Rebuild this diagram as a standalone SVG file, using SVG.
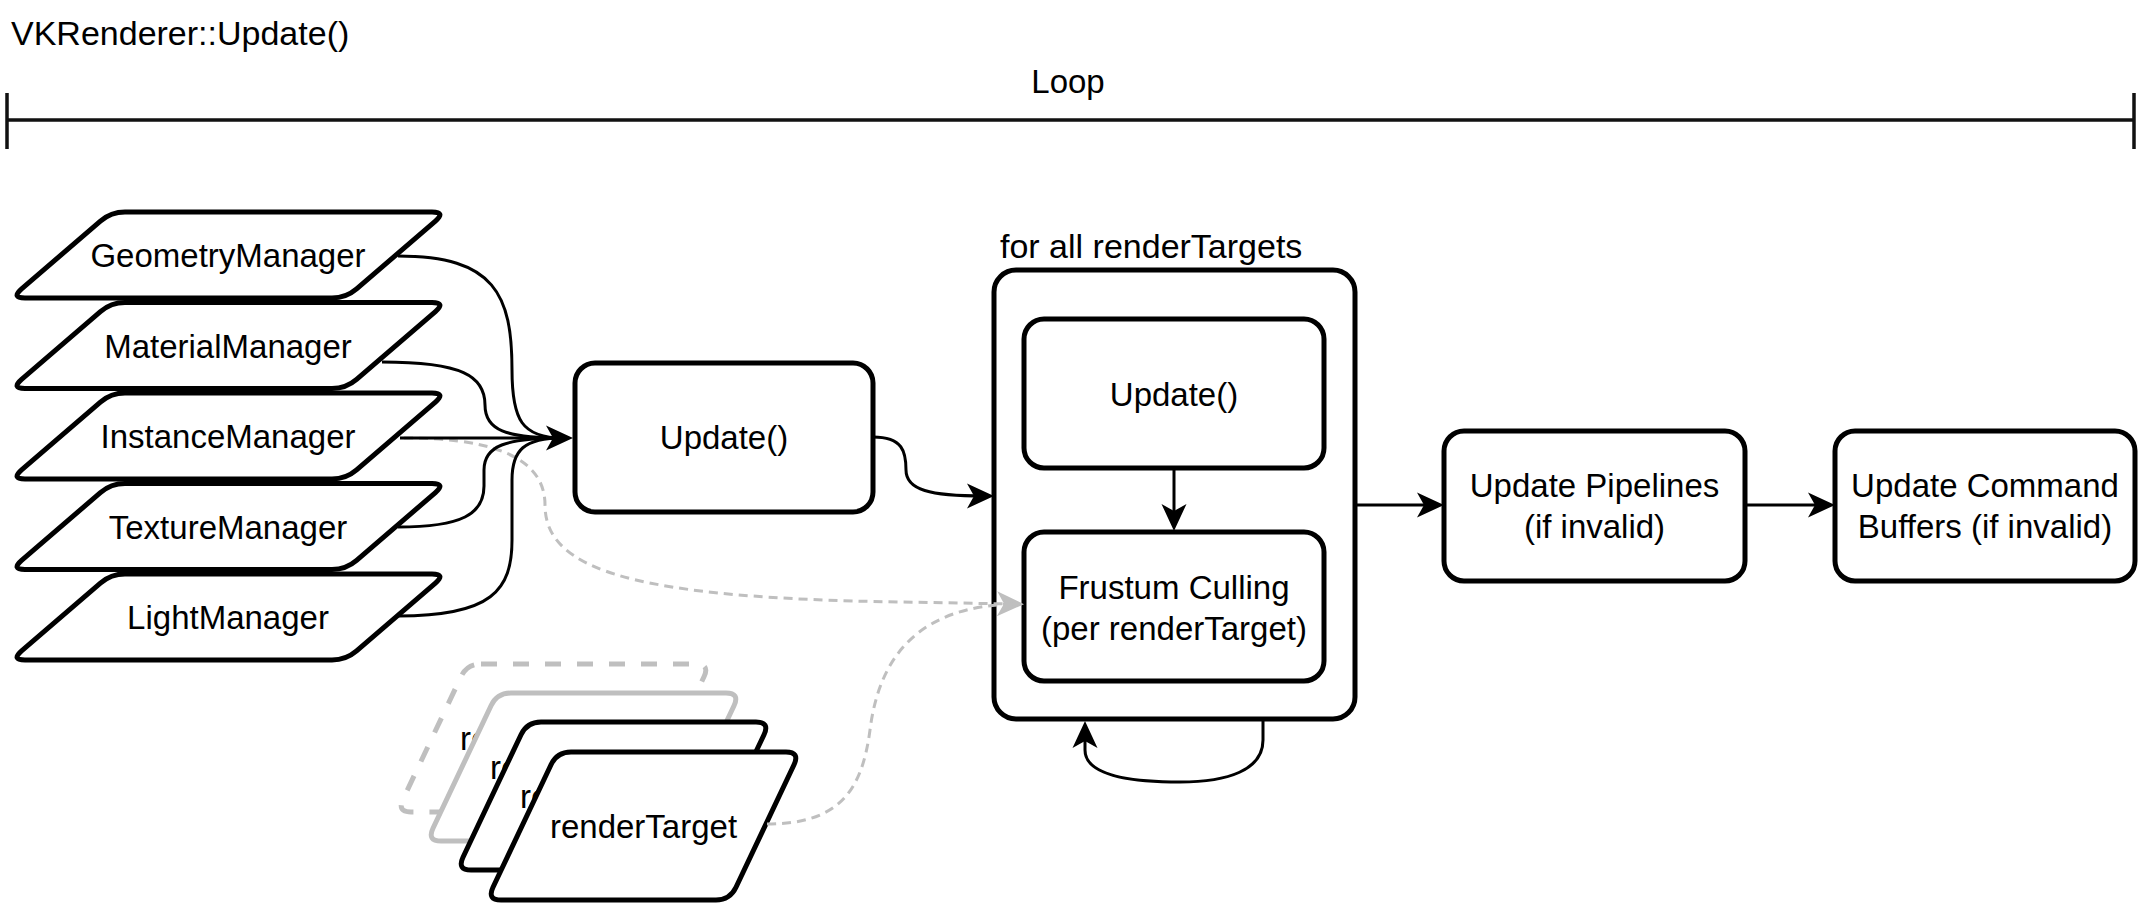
<svg xmlns="http://www.w3.org/2000/svg" xmlns:xlink="http://www.w3.org/1999/xlink" width="2139" height="906" viewBox="0 0 2139 906">
<style>
.box{fill:#fff;stroke:#000;stroke-width:5}
.gbox{fill:#fff;stroke:#BFBFBF;stroke-width:5}
.dbox{fill:#fff;stroke:#BFBFBF;stroke-width:5;stroke-dasharray:16 16}
.edge{fill:none;stroke:#000;stroke-width:3}
.gedge{fill:none;stroke:#BFBFBF;stroke-width:3;stroke-dasharray:9 6}
.bar{fill:none;stroke:#111;stroke-width:3.5}
text{font-family:"Liberation Sans",Arial,sans-serif;font-size:33px;fill:#000}
.c{text-anchor:middle}
.l{font-size:34px}
</style>
<defs>
<path id="mgr" d="M114,0 L421,0 Q435,0 424.4,9.1 L345.6,76.9 Q335,86 321,86 L14,86 Q0,86 10.6,76.9 L89.4,9.1 Q100,0 114,0 Z"/>
<path id="rt" d="M84,0 L299,0 Q313,0 307,12.7 L249,135.3 Q243,148 229,148 L14,148 Q0,148 6,135.3 L64,12.7 Q70,0 84,0 Z"/>
<marker id="ah" markerUnits="userSpaceOnUse" markerWidth="30" markerHeight="28" refX="18" refY="13" orient="auto" viewBox="0 0 30 28">
<path d="M1,0.5 L28,13 L1,25.5 L8,13 Z" fill="#000"/>
</marker>
<marker id="gah" markerUnits="userSpaceOnUse" markerWidth="30" markerHeight="28" refX="18" refY="13" orient="auto" viewBox="0 0 30 28">
<path d="M1,0.5 L28,13 L1,25.5 L8,13 Z" fill="#BFBFBF"/>
</marker>
</defs>

<g id="title"><text class="l" x="11" y="45">VKRenderer::Update()</text></g>
<g id="loop">
<text class="c" x="1068" y="93">Loop</text>
<path class="bar" d="M7,120 L2134,120 M7,93 L7,149 M2134,93 L2134,149"/>
</g>

<g id="geometry-manager"><use href="#mgr" class="box" x="11" y="212"/><text class="c" x="228" y="267">GeometryManager</text></g>
<g id="material-manager"><use href="#mgr" class="box" x="11" y="302.5"/><text class="c" x="228" y="357.5">MaterialManager</text></g>
<g id="instance-manager"><use href="#mgr" class="box" x="11" y="393"/><text class="c" x="228" y="448">InstanceManager</text></g>
<g id="texture-manager"><use href="#mgr" class="box" x="11" y="483.5"/><text class="c" x="228" y="538.5">TextureManager</text></g>
<g id="light-manager"><use href="#mgr" class="box" x="11" y="574"/><text class="c" x="228" y="629">LightManager</text></g>

<g id="render-target-stack">
<use href="#rt" class="dbox" x="397" y="664"/><text class="c" x="553.5" y="750">renderTarget</text>
<use href="#rt" class="gbox" x="427" y="693"/><text class="c" x="583.5" y="779">renderTarget</text>
<use href="#rt" class="box" x="457" y="722"/><text class="c" x="613.5" y="808">renderTarget</text>
<use href="#rt" class="box" x="487" y="752"/><text class="c" x="643.5" y="838">renderTarget</text>
</g>

<g id="update"><rect class="box" x="575" y="363" width="298" height="149" rx="20"/><text class="c" x="724" y="449">Update()</text></g>

<g id="for-all-render-targets">
<rect class="box" x="994" y="270" width="361" height="449" rx="22"/>
<text class="l" x="1000" y="258">for all renderTargets</text>
</g>
<g id="rt-update"><rect class="box" x="1024" y="319" width="300" height="149" rx="20"/><text class="c" x="1174" y="406">Update()</text></g>
<g id="frustum-culling"><rect class="box" x="1024" y="532" width="300" height="149" rx="20"/><text class="c" x="1174" y="599">Frustum Culling</text><text class="c" x="1174" y="640">(per renderTarget)</text></g>

<g id="update-pipelines"><rect class="box" x="1444" y="431" width="301" height="150" rx="20"/><text class="c" x="1594.5" y="497">Update Pipelines</text><text class="c" x="1594.5" y="538">(if invalid)</text></g>
<g id="update-command-buffers"><rect class="box" x="1835" y="431" width="300" height="150" rx="20"/><text class="c" x="1985" y="497">Update Command</text><text class="c" x="1985" y="538">Buffers (if invalid)</text></g>

<g id="connectors">
<path class="gedge" d="M404,438 C480,438 545,452 545,505 C545,572 640,598 900,602 L1014,604" marker-end="url(#gah)"/>
<path class="gedge" d="M767,824 C840,824 862,790 870,730 C880,650 925,606 1014,604"/>
<path class="edge" d="M398,256 C495,256 512,295 512,370 C512,420 522,438 563,438"/>
<path class="edge" d="M382,362 C462,362 485,376 485,405 C485,430 505,438 563,438"/>
<path class="edge" d="M400,438 L563,438" marker-end="url(#ah)"/>
<path class="edge" d="M398,527 C462,527 484,514 484,486 L484,470 C484,446 505,438 563,438"/>
<path class="edge" d="M398,616 C492,616 512,590 512,540 L512,480 C512,450 524,438 563,438"/>
<path class="edge" d="M873,437 C903,437 906,452 906,470 C906,490 930,496 984,496" marker-end="url(#ah)"/>
<path class="edge" d="M1174,469 L1174,521" marker-end="url(#ah)"/>
<path class="edge" d="M1263,719 L1263,740 C1263,770 1228,782 1180,782 C1120,782 1085,772 1085,750 L1085,731" marker-end="url(#ah)"/>
<path class="edge" d="M1355,505 L1434,505" marker-end="url(#ah)"/>
<path class="edge" d="M1745,505 L1825,505" marker-end="url(#ah)"/>
</g>
</svg>
